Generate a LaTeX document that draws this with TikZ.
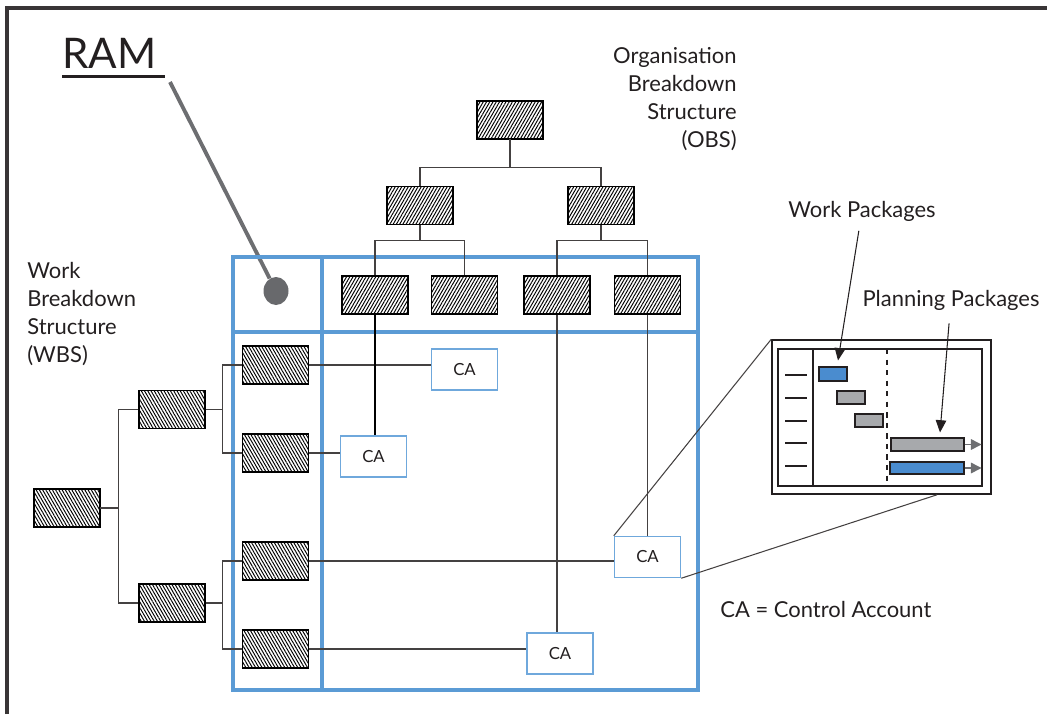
\documentclass[tikz,border=0pt]{standalone}
\usepackage{fontspec}
\setmainfont{Lato}
\usetikzlibrary{positioning,patterns.meta,shapes.geometric,arrows.meta}
\definecolor{ramblue}{HTML}{5B9BD5}
\definecolor{cablue}{HTML}{6FA8DC}
\definecolor{barblue}{HTML}{4A8CCF}
\definecolor{bargrey}{HTML}{A7A9AC}
\definecolor{dotgrey}{HTML}{68696C}
\definecolor{linegrey}{HTML}{6D6E71}
\definecolor{textgrey}{HTML}{231F20}

\begin{document}
\begin{tikzpicture}[
		x=0.02cm, y=-0.02cm,
		font=\fontsize{12.5}{15.9}\selectfont, text=textgrey,
		obsbox/.style={draw=black, line width=0.8pt, minimum width=1.32cm, minimum height=0.76cm, inner sep=0, preaction={fill=white}, pattern={Lines[angle=60,distance=1.6pt,line width=0.55pt]}},
		wbsbox/.style={obsbox, pattern={Lines[angle=120,distance=1.6pt,line width=0.55pt]}},
		cabox/.style={draw=cablue, line width=0.85pt, fill=white, minimum width=1.32cm, minimum height=0.82cm, font=\fontsize{9.5}{11}\selectfont},
		link/.style={draw=textgrey!85, line width=0.75pt},
		ramgrid/.style={draw=ramblue, line width=2pt},
		ganttbar/.style={draw=textgrey, line width=0.6pt, inner sep=0},
		pointer/.style={-{Triangle[length=7pt,width=6pt]}, line width=0.6pt, draw=textgrey},
		tail/.style={-{Triangle[length=6pt,width=6pt]}, line width=0.8pt, draw=linegrey, fill=linegrey}
	]
		\useasboundingbox (0,0) rectangle (1047,714);
		\draw[line width=2pt, textgrey!90] (7,714) -- (7,8) -- (1047,8);

		\node[anchor=base west, inner sep=0, font=\fontsize{24}{28}\selectfont] (ram) at (62,68) {RAM};
		\draw[line width=2.2pt, textgrey] (ram.base west) ++(0,8.5) -- ++(103,0);
		\node[ellipse, fill=dotgrey, minimum width=0.5cm, minimum height=0.56cm, inner sep=0] (ramdot) at (276,291) {};
		\coordinate (ramtip) at (170,82);
		\draw[line width=2.2pt, linegrey] (ramtip) -- (ramdot);

		\draw[ramgrid] (233,257) rectangle (698,690);
		\draw[ramgrid] (322,257) -- (322,690) (233,332) -- (698,332);

		\node[obsbox] (obs) at (510,120) {};
		\node[obsbox] (obsA) at (420,205.5) {};
		\node[obsbox] (obsB) at (601,205.5) {};
		\node[obsbox] (obsA1) at (375,295) {};
		\node[obsbox, right=0.44cm of obsA1] (obsA2) {};
		\node[obsbox] (obsB1) at (557,295) {};
		\node[obsbox, right=0.46cm of obsB1] (obsB2) {};

		\draw[link] (obs.south) -- ++(0,28) -| (obsA.north);
		\draw[link] (obs.south) ++(0,28) -| (obsB.north);
		\draw[link] (obsA.south) -- ++(0,15) -| (obsA1.north);
		\draw[link] (obsA.south) ++(0,15) -| (obsA2.north);
		\draw[link] (obsB.south) -- ++(0,15) -| (obsB1.north);
		\draw[link] (obsB.south) ++(0,15) -| (obsB2.north);

		\node[wbsbox] (wbs) at (67,508) {};
		\node[wbsbox] (wbsA) at (172,409.5) {};
		\node[wbsbox] (wbsB) at (172,603) {};
		\node[wbsbox] (wbsA1) at (275.5,365) {};
		\node[wbsbox] (wbsA2) at (275.5,453) {};
		\node[wbsbox] (wbsB1) at (275.5,561) {};
		\node[wbsbox] (wbsB2) at (275.5,649) {};

		\draw[link] (wbs.east) -- ++(18,0) |- (wbsA.west);
		\draw[link] (wbs.east) ++(18,0) |- (wbsB.west);
		\draw[link] (wbsA.east) -- ++(17,0) |- (wbsA1.west);
		\draw[link] (wbsA.east) ++(17,0) |- (wbsA2.west);
		\draw[link] (wbsB.east) -- ++(17,0) |- (wbsB1.west);
		\draw[link] (wbsB.east) ++(17,0) |- (wbsB2.west);

		\node[cabox] (caA) at (464.5,369.5) {CA};
		\node[cabox] (caB) at (373.5,456.5) {CA};
		\node[cabox] (caC) at (647.5,557) {CA};
		\node[cabox] (caD) at (560,653.5) {CA};

		\draw[link] (wbsA1.east) -- (wbsA1.east -| caA.west);
		\draw[link] (wbsA2.east) -- (wbsA2.east -| caB.west);
		\draw[link] (wbsB1.east) -- (wbsB1.east -| caC.west);
		\draw[link] (wbsB2.east) -- (wbsB2.east -| caD.west);
		\draw[link, draw=black, line width=1.4pt] (obsA1.south) -- (obsA1.south |- caB.north);
		\draw[link] (obsB1.south) -- (obsB1.south |- caD.north);
		\draw[link] (obsB2.south) -- (obsB2.south |- caC.north);

		\node[draw=textgrey, line width=0.9pt, minimum width=4.38cm, minimum height=3.08cm, inner sep=0] (gantt) at (881.5,417) {};
		\draw[textgrey, line width=0.8pt] (778,349) rectangle (982,486);
		\draw[textgrey, line width=0.8pt] (813,349) -- (813,486);
		\draw[textgrey, line width=0.6pt, dashed] (887,349) -- (887,486);
		\foreach \y in {375,398,421,443,466}
			\draw[textgrey, line width=0.7pt] (785,\y) -- (807,\y);

		\node[ganttbar, fill=barblue, minimum width=0.56cm, minimum height=0.28cm] (wp1) at (833,374) {};
		\node[ganttbar, fill=bargrey, minimum width=0.56cm, minimum height=0.26cm] (wp2) at (851,397.5) {};
		\node[ganttbar, fill=bargrey, minimum width=0.56cm, minimum height=0.26cm] (wp3) at (869,420.5) {};
		\node[ganttbar, fill=bargrey, minimum width=1.46cm, minimum height=0.26cm] (pp1) at (927.5,444.5) {};
		\node[ganttbar, fill=barblue, minimum width=1.48cm, minimum height=0.24cm] (pp2) at (927,468) {};
		\draw[tail] (pp1.east) -- ++(17,0);
		\draw[tail] (pp2.east) -- ++(17,0);

		\draw[link, line width=0.6pt] (caC.north west) -- (gantt.north west);
		\draw[link, line width=0.6pt] (caC.south east) -- ([xshift=1.11cm]gantt.south);

		\node (wplabel) at (862,211) {Work Packages};
		\node (pplabel) at (951,300) {Planning Packages};
		\draw[pointer, shorten <=2pt] (wplabel) -- ([xshift=0.1cm,yshift=0.12cm]wp1.north);
		\draw[pointer, shorten <=4pt] (pplabel) -- ([xshift=0.25cm,yshift=0.1cm]pp1.north);

		\node[anchor=west, align=left, inner sep=0] (wbslabel) at (27,314) {Work\\Breakdown\\Structure\\(WBS)};
		\node[anchor=east, align=right, inner sep=0] (obslabel) at (737,99) {Organisation\\Breakdown\\Structure\\(OBS)};
		\node[anchor=west, inner sep=0] (legend) at (720,609) {CA = Control Account};
	\end{tikzpicture}
\end{document}
